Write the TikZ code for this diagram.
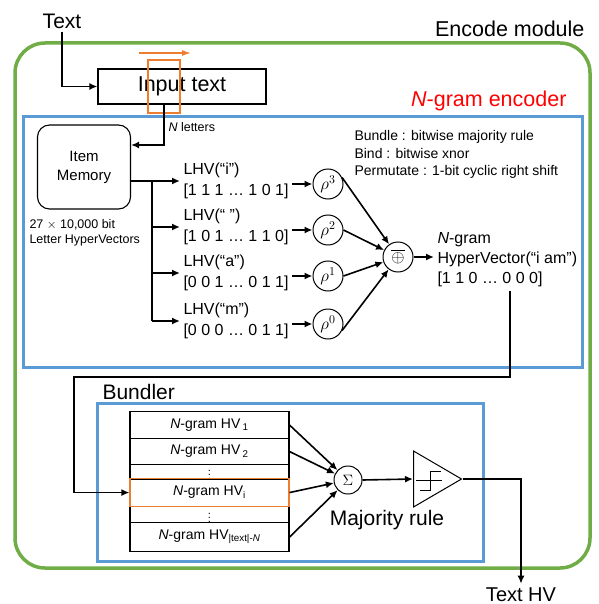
\RequirePackage{fix-cm}
\documentclass[tikz,border=0pt]{standalone}
\usepackage{fontspec}
\setmainfont{Liberation Sans}
\usepackage{amsmath}
\usetikzlibrary{arrows.meta}
\usetikzlibrary{calc}
\usetikzlibrary{positioning}
\usetikzlibrary{shapes.geometric}
\definecolor{C0}{HTML}{5B9BD5}
\definecolor{C1}{HTML}{ED7D31}
\definecolor{C2}{HTML}{70AD47}
\newcommand{\fs}[1]{\fontsize{#1}{#1}\selectfont}
\tikzstyle{module} = [draw=C2, line width=3.5pt, rounded corners=30pt]
\tikzstyle{block} = [draw=C0, line width=3pt]
\tikzstyle{perm} = [draw, circle, minimum size=30pt, inner sep=0pt, line width=1pt, font=\fs{17}]
\tikzstyle{wire} = [-{Latex[length=8pt,width=7pt]}, line width=1.6pt]
\tikzstyle{row} = [draw, line width=1.1pt, minimum width=159pt, inner sep=0pt, anchor=north, font=\fontsize{14}{16}\selectfont]

\begin{document}
\begin{tikzpicture}[x=1pt, y=-1pt]
	\useasboundingbox (0,0) rectangle (598,604);
	
	% outer module and the encoder block
	\draw[module] (15,43) rectangle (590,568);
	\node[anchor=east, font=\fs{21.5}] (modlbl) at (588,29) {Encode module};
	\draw[block] (23,117) rectangle (582,367);
	\node[anchor=east, font=\fs{21.5}, text=red] (enclbl) at (570,101) {\textit{N}-gram encoder};
	
	% input text with the sliding window
	\node[font=\fs{21}] (txt) at (62,21) {Text};
	\node[draw, line width=1.1pt, minimum width=168pt, minimum height=35pt, font=\fs{21.5}] (input) at (182,86.5) {Input text};
	\node[draw=C1, line width=1.2pt, minimum width=32pt, minimum height=53pt] (window) at (164,86.5) {};
	\coordinate (slideA) at (139,53);
	\coordinate (slideB) at (191,53);
	\draw[C1, line width=1.4pt, -{Latex[length=9pt,width=6pt]}] (slideA) -- (slideB);
	\draw[wire] (txt.south) |- (input.west);
	
	% item memory
	\node[draw, line width=1.1pt, rounded corners=12pt, minimum width=93pt, minimum height=84pt, align=center, font=\fontsize{15}{19}\selectfont] (mem) at (84,167) {Item\\Memory};
	\node[anchor=north west, align=left, font=\fontsize{12.5}{15}\selectfont] (memlbl) at (26,216) {27 $\times$ 10,000 bit\\Letter HyperVectors};
	\draw[wire] (window.center |- input.south) |- ($(mem.east)+(0,-22)$);
	\node[anchor=west, font=\fs{12.5}] (nlet) at (165,127) {\textit{N} letters};
	
	% letter hypervectors and permutations
	\foreach \y/\ch/\bits/\p [count=\i] in {
		181/“i”/1 1 1 … 1 0 1/3,
		227/“ ”/1 0 1 … 1 1 0/2,
		273/“a”/0 0 1 … 0 1 1/1,
		321/“m”/0 0 0 … 0 1 1/0}
	{
		\node[anchor=west, align=left, font=\fontsize{16}{21}\selectfont] (lhv\i) at (180,\y) {LHV(\ch)\\{[}\bits{]}};
		\node[perm] (rho\i) at (328,\y+3) {$\rho^{\p}$};
		\draw[wire] (rho\i.west -| lhv\i.east) -- (rho\i.west);
	}
	\coordinate (bus) at ($(mem.east)+(21,14)$);
	\draw[wire] ($(mem.east)+(0,14)$) -- (bus -| lhv1.west);
	\draw[line width=1.6pt] (bus) -- (bus |- lhv4.west);
	\foreach \i in {2,3,4}
	{
		\draw[wire] (bus |- lhv\i.west) -- (lhv\i.west);
	}
	
	% binding
	\node[perm] (bind) at (398,257) {$\overline{\oplus}$};
	\foreach \i/\a in {1/25, 2/0, 3/0, 4/-25}
	{
		\draw[wire] (rho\i.\a) -- (bind);
	}
	\node[anchor=west, align=left, font=\fontsize{16}{20}\selectfont] (hv) at (434,260) {\textit{N}-gram\\HyperVector(“i am”)\\{[}1 1 0 … 0 0 0{]}};
	\draw[wire] (bind.east) -- (bind.east -| hv.west);
	\node[anchor=north west, align=left, font=\fontsize{14}{17.5}\selectfont] (ops) at (351,127) {Bundle : bitwise majority rule\\Bind : bitwise xnor\\Permutate : 1-bit cyclic right shift};
	
	% bundler
	\draw[block] (97,403) rectangle (483,561);
	\node[anchor=west, font=\fs{21}] (bundlbl) at (99,392) {Bundler};
	\node[row, minimum height=27pt] (row1) at (209.5,411) {\textit{N}-gram HV\,\textsubscript{1}};
	\node[row, minimum height=26pt] (row2) at (209.5,438) {\textit{N}-gram HV\,\textsubscript{2}};
	\node[row, minimum height=14pt, font=\fs{11}] (dots1) at (209.5,464) {$\vdots$};
	\node[row, minimum height=16pt, font=\fs{11}] (dots2) at (209.5,506) {$\vdots$};
	\node[row, minimum height=29pt] (rowN) at (209.5,522) {\textit{N}-gram HV\textsubscript{|text|-\textit{N}}};
	\node[row, draw=C1, minimum height=28pt] (rowi) at (209.5,478) {\textit{N}-gram HV\textsubscript{i}};
	\coordinate (hvout) at ($(hv.south west)+(76,0)$);
	\coordinate (loop) at (74,377);
	\draw[wire] (hvout) |- (loop) |- (rowi.west);
	
	% majority rule
	\node[perm, minimum size=28pt, font=\fs{15}] (sum) at (348,480) {$\Sigma$};
	\foreach \r in {row1, row2, rowi, rowN}
	{
		\draw[wire] (\r.east) -- (sum);
	}
	\node[draw, line width=1pt, isosceles triangle, isosceles triangle stretches, minimum height=48pt, minimum width=56pt, inner sep=0pt, anchor=lower side] (thr) at (413,479) {};
	\draw[line width=1pt] (416,480) -- (442,480);
	\draw[line width=1pt] (420,490) -- (430,490) -- (430,471) -- (441,471);
	\draw[wire] (sum.east) -- (thr.lower side);
	\node[font=\fs{21}] (majlbl) at (387,520) {Majority rule};
	\node[anchor=base, font=\fs{20}] (outlbl) at (521,601) {Text HV};
	\draw[wire] (thr.apex) -| (outlbl.north);
\end{tikzpicture}
\end{document}
